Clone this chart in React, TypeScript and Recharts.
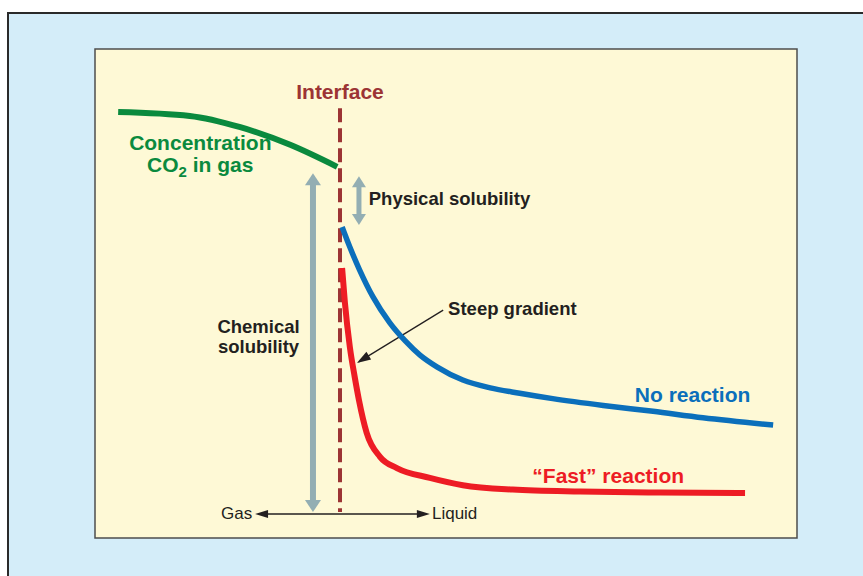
import React from 'react';
import { ComposedChart, Line, XAxis, YAxis, ReferenceArea, ReferenceLine, ReferenceDot } from 'recharts';

// distance across the film (0-100) and CO2 concentration (0-100)
const gasX = [3.3, 13.5, 20.7, 27.8, 34.5];
const gasY = [87.1, 86.3, 84.0, 80.4, 75.9];

const noReactionX = [35.2, 36.3, 37.7, 39.6, 42.0, 44.2, 46.3, 48.7, 52.4, 56.3, 60.5, 65.2, 72.4, 79.5, 86.6, 96.6];
const noReactionY = [63.6, 59.5, 54.8, 49.3, 44.0, 40.3, 37.4, 35.0, 32.3, 30.7, 29.6, 28.5, 27.1, 25.9, 24.6, 23.1];

const fastX = [35.2, 35.6, 36.3, 37.0, 37.6, 38.7, 40.6, 43.0, 47.7, 52.4, 59.5, 69.1, 80.5, 92.6];
const fastY = [55.2, 48.1, 39.1, 32.9, 28.2, 21.5, 16.6, 14.3, 12.3, 10.8, 9.9, 9.5, 9.3, 9.2];

const interfaceX = 34.9;

const toPoints = (xs: number[], ys: number[]) => xs.map((x, i) => ({ x, y: ys[i] }));

const gasData = toPoints(gasX, gasY);
const noReactionData = toPoints(noReactionX, noReactionY);
const fastData = toPoints(fastX, fastY);

const FONT = '"Liberation Sans", Arial, Helvetica, sans-serif';
const DARK = '#231f20';
const GRAY = '#93aeb3';

type ArrowOpts = { color: string; width: number; head: number; headW: number; both?: boolean };

const arrowShape = (o: ArrowOpts) => (p: any) => {
  const { x1, y1, x2, y2 } = p;
  const dx = x2 - x1;
  const dy = y2 - y1;
  const len = Math.sqrt(dx * dx + dy * dy) || 1;
  const ux = dx / len;
  const uy = dy / len;
  const nx = -uy;
  const ny = ux;
  const head = (tx: number, ty: number, dirX: number, dirY: number) => {
    const bx = tx - dirX * o.head;
    const by = ty - dirY * o.head;
    return `${tx},${ty} ${bx + nx * o.headW / 2},${by + ny * o.headW / 2} ${bx - nx * o.headW / 2},${by - ny * o.headW / 2}`;
  };
  const sx = o.both ? x1 + ux * o.head * 0.8 : x1;
  const sy = o.both ? y1 + uy * o.head * 0.8 : y1;
  const ex = x2 - ux * o.head * 0.8;
  const ey = y2 - uy * o.head * 0.8;
  return (
    <g>
      <line x1={sx} y1={sy} x2={ex} y2={ey} stroke={o.color} strokeWidth={o.width} />
      <polygon points={head(x2, y2, ux, uy)} fill={o.color} />
      {o.both && <polygon points={head(x1, y1, -ux, -uy)} fill={o.color} />}
    </g>
  );
};

type TextOpts = { color: string; size: number; anchor?: 'start' | 'middle' | 'end'; weight?: number };

const textShape = (content: React.ReactNode, o: TextOpts) => (p: any) => (
  <text
    x={p.cx}
    y={p.cy}
    fill={o.color}
    fontSize={o.size}
    fontWeight={o.weight ?? 700}
    fontFamily={FONT}
    textAnchor={o.anchor ?? 'start'}
  >
    {content}
  </text>
);

const App = () => {
  return (
    <div style={{ position: 'absolute', left: 0, top: 0, width: 863, height: 576, background: '#fff', overflow: 'hidden' }}>
      <div
        style={{
          position: 'absolute',
          left: 7,
          top: 12,
          width: 856,
          height: 564,
          background: '#d4edf9',
          borderTop: '2px solid #2a2a2a',
          borderLeft: '2px solid #2a2a2a',
          boxSizing: 'border-box',
        }}
      />
      <div style={{ position: 'absolute', left: 0, top: 0 }}>
        <ComposedChart width={863} height={576} margin={{ top: 49, right: 66, bottom: 38, left: 95 }}>
          <XAxis type="number" dataKey="x" domain={[0, 100]} hide allowDataOverflow />
          <YAxis type="number" dataKey="y" domain={[0, 100]} hide allowDataOverflow />
          <ReferenceArea x1={0} x2={100} y1={0} y2={100} fill="#fef9d6" fillOpacity={1} stroke="#4d4d4d" strokeWidth={1.5} />

          {/* Gas / Liquid axis */}
          <ReferenceLine
            segment={[{ x: 22.8, y: 4.9 }, { x: 47.7, y: 4.9 }]}
            shape={arrowShape({ color: DARK, width: 1.4, head: 13, headW: 8, both: true })}
          />
          {/* chemical solubility */}
          <ReferenceLine
            segment={[{ x: 31.05, y: 74.6 }, { x: 31.05, y: 5.3 }]}
            shape={arrowShape({ color: GRAY, width: 6, head: 12, headW: 16, both: true })}
          />
          {/* physical solubility */}
          <ReferenceLine
            segment={[{ x: 37.6, y: 74.0 }, { x: 37.6, y: 64.0 }]}
            shape={arrowShape({ color: GRAY, width: 5, head: 11, headW: 14, both: true })}
          />
          {/* steep gradient pointer */}
          <ReferenceLine
            segment={[{ x: 49.6, y: 46.6 }, { x: 37.3, y: 35.8 }]}
            shape={arrowShape({ color: DARK, width: 1.3, head: 14, headW: 9 })}
          />
          {/* interface */}
          <ReferenceLine
            segment={[{ x: interfaceX, y: 87.9 }, { x: interfaceX, y: 5.3 }]}
            stroke="#9c3434"
            strokeWidth={4}
            strokeDasharray="14 6"
          />

          <Line data={gasData} dataKey="y" type="monotone" stroke="#0a8a3e" strokeWidth={6} dot={false} isAnimationActive={false} />
          <Line data={noReactionData} dataKey="y" type="monotone" stroke="#0b6fbb" strokeWidth={5.5} dot={false} isAnimationActive={false} />
          <Line data={fastData} dataKey="y" type="monotone" stroke="#ed1c24" strokeWidth={6} dot={false} isAnimationActive={false} />

          <ReferenceDot x={interfaceX} y={89.8} r={0} shape={textShape('Interface', { color: '#9c3434', size: 21, anchor: 'middle' })} />
          <ReferenceDot x={15.0} y={79.3} r={0} shape={textShape('Concentration', { color: '#0a8a3e', size: 21, anchor: 'middle' })} />
          <ReferenceDot
            x={15.0}
            y={74.8}
            r={0}
            shape={textShape(
              <>
                CO<tspan fontSize={15} dy={5}>2</tspan>
                <tspan dy={-5}> in gas</tspan>
              </>,
              { color: '#0a8a3e', size: 21, anchor: 'middle' }
            )}
          />
          <ReferenceDot x={39.0} y={68.1} r={0} shape={textShape('Physical solubility', { color: DARK, size: 18.5 })} />
          <ReferenceDot x={23.3} y={41.9} r={0} shape={textShape('Chemical', { color: DARK, size: 18.5, anchor: 'middle' })} />
          <ReferenceDot x={23.3} y={37.8} r={0} shape={textShape('solubility', { color: DARK, size: 18.5, anchor: 'middle' })} />
          <ReferenceDot x={50.3} y={45.6} r={0} shape={textShape('Steep gradient', { color: DARK, size: 18.5 })} />
          <ReferenceDot x={76.9} y={27.8} r={0} shape={textShape('No reaction', { color: '#0b6fbb', size: 21 })} />
          <ReferenceDot x={62.3} y={11.2} r={0} shape={textShape('\u201cFast\u201d reaction', { color: '#ed1c24', size: 21 })} />
          <ReferenceDot x={22.4} y={3.9} r={0} shape={textShape('Gas', { color: DARK, size: 17, anchor: 'end', weight: 400 })} />
          <ReferenceDot x={48.0} y={3.9} r={0} shape={textShape('Liquid', { color: DARK, size: 17, weight: 400 })} />
        </ComposedChart>
      </div>
    </div>
  );
};

export default App;
